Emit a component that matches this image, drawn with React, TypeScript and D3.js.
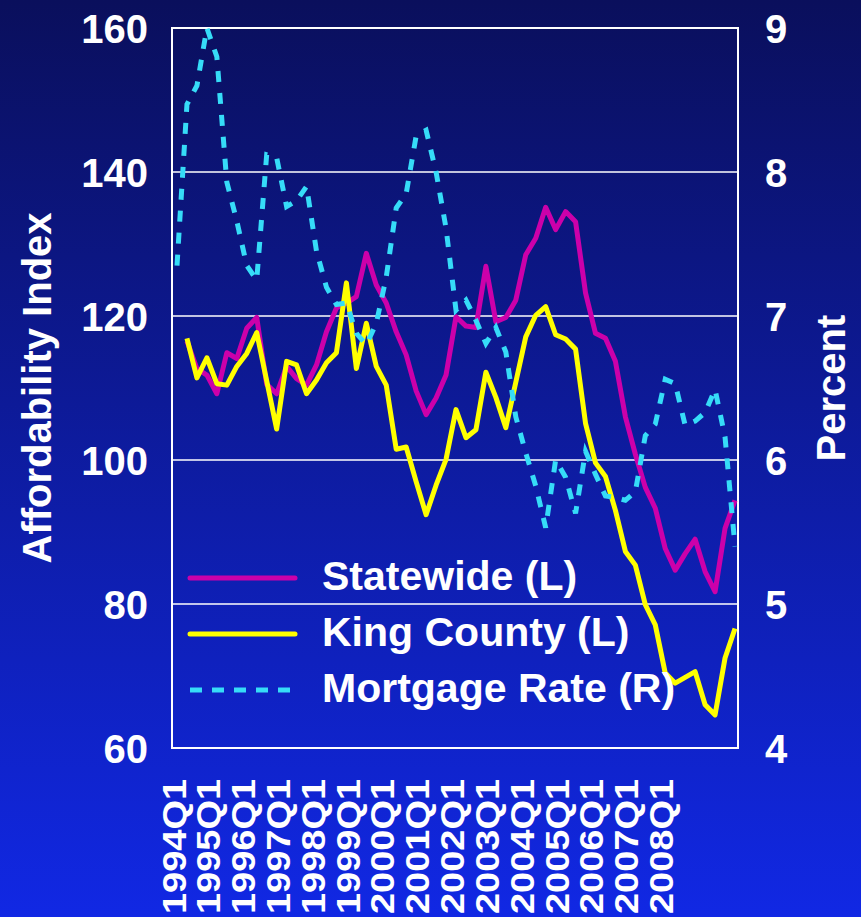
import React from "react";
import * as d3 from "d3";

const W = 861;
const H = 917;
const plot = { left: 172, right: 738, top: 28, bottom: 748 };

// 1994Q1 .. 2008Q1
const quarters: string[] = [];
for (let y = 1994; y <= 2008; y++) {
  for (let q = 1; q <= 4; q++) {
    if (quarters.length < 57) quarters.push(y + "Q" + q);
  }
}

const yearLabels = [
  "1994Q1", "1995Q1", "1996Q1", "1997Q1", "1998Q1", "1999Q1", "2000Q1", "2001Q1",
  "2002Q1", "2003Q1", "2004Q1", "2005Q1", "2006Q1", "2007Q1", "2008Q1",
];

const mortgageRate = [
  7.35, 8.47, 8.6, 9.0, 8.8, 7.93, 7.66, 7.35, 7.25, 8.12, 8.1, 7.76, 7.8, 7.9, 7.45,
  7.2, 7.08, 7.09, 6.88, 6.8, 6.95, 7.27, 7.75, 7.85, 8.25, 8.29, 8.0, 7.61, 7.04, 7.11,
  6.97, 6.81, 6.92, 6.75, 6.3, 6.05, 5.82, 5.53, 6.0, 5.88, 5.63, 6.06, 5.9, 5.75, 5.74,
  5.72, 5.78, 6.17, 6.25, 6.56, 6.53, 6.24, 6.27, 6.33, 6.49, 6.16, 5.4,
];

const statewide = [
  null, 116.5, 112.7, 111.8, 109.2, 114.9, 114.1, 118.3, 119.8, 110.5, 109.2, 113.0, 111.3,
  110.4, 113.2, 117.8, 121.1, 121.8, 122.7, 128.7, 124.3, 121.8, 117.8, 114.6, 109.6, 106.3,
  108.6, 111.8, 119.9, 118.6, 118.4, 126.9, 119.2, 119.8, 122.2, 128.5, 130.8, 135.1, 132.0,
  134.5, 133.1, 123.2, 117.6, 116.9, 113.7, 106.0, 100.8, 96.2, 93.3, 87.7, 84.7, 87.0, 89.0,
  84.5, 81.7, 90.5, 94.4,
];

const kingCounty = [
  null, 116.9, 111.4, 114.2, 110.6, 110.4, 113.0, 114.8, 117.7, 111.0, 104.3, 113.7, 113.2,
  109.2, 111.1, 113.5, 114.9, 124.6, 112.7, 119.0, 113.0, 110.4, 101.5, 101.8, 97.0, 92.4,
  96.5, 100.1, 107.0, 103.1, 104.2, 112.2, 108.7, 104.5, 110.8, 117.1, 120.1, 121.3, 117.4,
  116.8, 115.4, 105.1, 99.6, 97.7, 93.0, 87.3, 85.4, 79.9, 77.1, 70.4, 69.0, 69.8, 70.6,
  66.0, 64.6, 72.5, 76.6,
];

const leftTicks = [60, 80, 100, 120, 140, 160];
const rightTicks = [4, 5, 6, 7, 8, 9];

const legendNames = ["Statewide (L)", "King County (L)", "Mortgage Rate (R)"];
const colors = ["#cc00aa", "#ffff00", "#36dcf8"];

const FONT = "'Liberation Sans', Arial, sans-serif";

export default function App() {
  const svgRef = React.useRef<SVGSVGElement>(null);

  React.useEffect(() => {
    const svg = d3.select(svgRef.current);
    svg.selectAll("*").remove();

    const grad = svg.append("defs").append("linearGradient")
      .attr("id", "bg").attr("x1", 0).attr("y1", 0).attr("x2", 0).attr("y2", 1);
    grad.append("stop").attr("offset", "0%").attr("stop-color", "#0a0f5c");
    grad.append("stop").attr("offset", "100%").attr("stop-color", "#1128e4");
    svg.append("rect").attr("width", W).attr("height", H).attr("fill", "url(#bg)");

    const x = d3.scalePoint<string>().domain(quarters).range([177, 735]);
    const xLab = d3.scalePoint<string>().domain(yearLabels).range([173.3, 660.7]);
    const yL = d3.scaleLinear().domain([60, 160]).range([plot.bottom, plot.top]);
    const yR = d3.scaleLinear().domain([4, 9]).range([plot.bottom, plot.top]);

    // grid lines
    svg.append("g").selectAll("line")
      .data(leftTicks.slice(1, -1))
      .join("line")
      .attr("x1", plot.left).attr("x2", plot.right)
      .attr("y1", (d) => yL(d)).attr("y2", (d) => yL(d))
      .attr("stroke", "#fff").attr("stroke-width", 1.5);

    svg.append("rect")
      .attr("x", plot.left).attr("y", plot.top)
      .attr("width", plot.right - plot.left).attr("height", plot.bottom - plot.top)
      .attr("fill", "none").attr("stroke", "#fff").attr("stroke-width", 2);

    // axes
    const leftAxis = svg.append("g")
      .attr("transform", `translate(${plot.left},0)`)
      .call(d3.axisLeft(yL).tickValues(leftTicks).tickSize(0).tickPadding(24));
    const rightAxis = svg.append("g")
      .attr("transform", `translate(${plot.right},0)`)
      .call(d3.axisRight(yR).tickValues(rightTicks).tickFormat(d3.format("d")).tickSize(0).tickPadding(27));
    [leftAxis, rightAxis].forEach((g) => {
      g.select(".domain").remove();
      g.selectAll("text")
        .attr("fill", "#fff").attr("font-size", 40).attr("font-weight", "bold")
        .attr("font-family", FONT).attr("dy", "0.36em");
    });

    // x labels (rotated)
    svg.append("g").selectAll("text")
      .data(yearLabels)
      .join("text")
      .attr("transform", (d) => `translate(${xLab(d)! + 12.3},779) rotate(-90)`)
      .attr("text-anchor", "end")
      .attr("fill", "#fff").attr("font-size", 34).attr("font-weight", "bold")
      .attr("font-family", FONT)
      .attr("textLength", 135).attr("lengthAdjust", "spacingAndGlyphs")
      .text((d) => d);

    // axis titles
    svg.append("text")
      .attr("transform", `translate(51,388) rotate(-90)`)
      .attr("text-anchor", "middle").attr("fill", "#fff")
      .attr("font-size", 40).attr("font-weight", "bold").attr("font-family", FONT)
      .text("Affordability Index");
    svg.append("text")
      .attr("transform", `translate(845,388) rotate(-90)`)
      .attr("text-anchor", "middle").attr("fill", "#fff")
      .attr("font-size", 40).attr("font-weight", "bold").attr("font-family", FONT)
      .text("Percent");

    // series
    const lineL = d3.line<number | null>()
      .defined((d) => d != null)
      .x((d, i) => x(quarters[i])!)
      .y((d) => yL(d as number));
    const lineR = d3.line<number>()
      .x((d, i) => x(quarters[i])!)
      .y((d) => yR(d));

    svg.append("path").datum(statewide).attr("d", lineL)
      .attr("fill", "none").attr("stroke", colors[0]).attr("stroke-width", 5)
      .attr("stroke-linejoin", "round");
    svg.append("path").datum(kingCounty).attr("d", lineL)
      .attr("fill", "none").attr("stroke", colors[1]).attr("stroke-width", 5)
      .attr("stroke-linejoin", "round");
    svg.append("path").datum(mortgageRate).attr("d", lineR)
      .attr("fill", "none").attr("stroke", colors[2]).attr("stroke-width", 5)
      .attr("stroke-dasharray", "11 11");

    // legend
    const leg = svg.append("g").selectAll("g")
      .data(legendNames)
      .join("g")
      .attr("transform", (d, i) => `translate(0,${578 + i * 56})`);
    leg.append("line")
      .attr("x1", 190).attr("x2", 295)
      .attr("stroke", (d, i) => colors[i]).attr("stroke-width", 5)
      .attr("stroke-linecap", (d, i) => (i === 2 ? "butt" : "round"))
      .attr("stroke-dasharray", (d, i) => (i === 2 ? "12 10" : null));
    leg.append("text")
      .attr("x", 322).attr("y", 12)
      .attr("fill", "#fff").attr("font-size", 41).attr("font-weight", "bold")
      .attr("font-family", FONT)
      .text((d) => d);
  }, []);

  return (
    <svg
      ref={svgRef}
      width={W}
      height={H}
      style={{ position: "absolute", left: 0, top: 0, display: "block" }}
    />
  );
}
